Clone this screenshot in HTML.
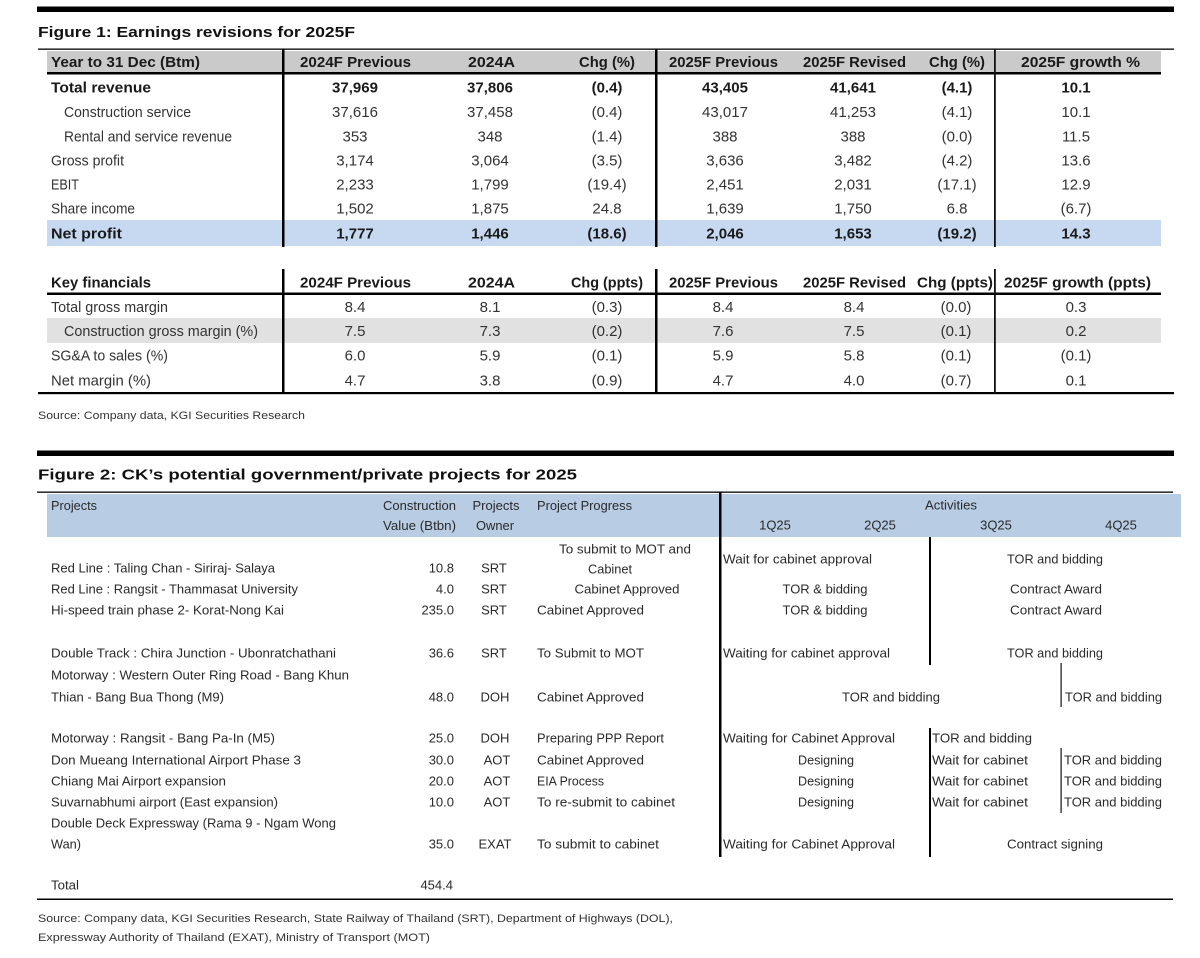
<!DOCTYPE html>
<html><head><meta charset="utf-8"><style>
html,body{margin:0;padding:0;background:#fff;}
svg{display:block;}
text{font-family:"Liberation Sans",Arial,sans-serif;}
.t{font-size:15px;font-weight:bold;fill:#111;}
.h{font-size:15px;font-weight:bold;fill:#1a1a1a;}
.r{font-size:15px;fill:#333;}
.b{font-size:15px;font-weight:bold;fill:#1a1a1a;}
.s{font-size:11px;fill:#333;}
.f{font-size:13px;fill:#2a2a2a;}
.c{text-anchor:middle;}
.e{text-anchor:end;}
</style></head><body>
<svg width="1200" height="958" viewBox="0 0 1200 958" xmlns="http://www.w3.org/2000/svg">
<rect x="0" y="0" width="1200" height="958" fill="#fff"/>

<!-- ===== Figure 1 ===== -->
<rect x="37" y="6.5" width="1137" height="5.5" fill="#000"/>
<text class="t" x="38" y="37" textLength="317" lengthAdjust="spacingAndGlyphs">Figure 1: Earnings revisions for 2025F</text>

<rect x="38" y="48.5" width="1136" height="1.3" fill="#000"/>
<rect x="47" y="51" width="1114" height="21" fill="#cacaca"/>
<rect x="47" y="72" width="1114" height="2.5" fill="#000"/>
<rect x="47" y="220" width="1114" height="26" fill="#c6d9f1"/>

<g>
<text class="h" x="51" y="67" textLength="149" lengthAdjust="spacingAndGlyphs">Year to 31 Dec (Btm)</text>
<text class="h" x="300" y="67" textLength="111" lengthAdjust="spacingAndGlyphs">2024F Previous</text>
<text class="h" x="468" y="67" textLength="47" lengthAdjust="spacingAndGlyphs">2024A</text>
<text class="h" x="579" y="67" textLength="56" lengthAdjust="spacingAndGlyphs">Chg (%)</text>
<text class="h" x="669" y="67" textLength="109" lengthAdjust="spacingAndGlyphs">2025F Previous</text>
<text class="h" x="803" y="67" textLength="103" lengthAdjust="spacingAndGlyphs">2025F Revised</text>
<text class="h" x="929" y="67" textLength="56" lengthAdjust="spacingAndGlyphs">Chg (%)</text>
<text class="h" x="1021" y="67" textLength="119" lengthAdjust="spacingAndGlyphs">2025F growth %</text>
</g>

<!-- rows -->
<g>
<text class="b" x="51" y="92.5" textLength="100" lengthAdjust="spacingAndGlyphs">Total revenue</text>
<text class="b c" x="355" y="92.5">37,969</text>
<text class="b c" x="490" y="92.5">37,806</text>
<text class="b c" x="607" y="92.5">(0.4)</text>
<text class="b c" x="725" y="92.5">43,405</text>
<text class="b c" x="853" y="92.5">41,641</text>
<text class="b c" x="957" y="92.5">(4.1)</text>
<text class="b c" x="1076" y="92.5">10.1</text>

<text class="r" x="64" y="117" textLength="127" lengthAdjust="spacingAndGlyphs">Construction service</text>
<text class="r c" x="355" y="117">37,616</text>
<text class="r c" x="490" y="117">37,458</text>
<text class="r c" x="607" y="117">(0.4)</text>
<text class="r c" x="725" y="117">43,017</text>
<text class="r c" x="853" y="117">41,253</text>
<text class="r c" x="957" y="117">(4.1)</text>
<text class="r c" x="1076" y="117">10.1</text>

<text class="r" x="64" y="141.5" textLength="168" lengthAdjust="spacingAndGlyphs">Rental and service revenue</text>
<text class="r c" x="355" y="141.5">353</text>
<text class="r c" x="490" y="141.5">348</text>
<text class="r c" x="607" y="141.5">(1.4)</text>
<text class="r c" x="725" y="141.5">388</text>
<text class="r c" x="853" y="141.5">388</text>
<text class="r c" x="957" y="141.5">(0.0)</text>
<text class="r c" x="1076" y="141.5">11.5</text>

<text class="r" x="51" y="165.5" textLength="73" lengthAdjust="spacingAndGlyphs">Gross profit</text>
<text class="r c" x="355" y="165.5">3,174</text>
<text class="r c" x="490" y="165.5">3,064</text>
<text class="r c" x="607" y="165.5">(3.5)</text>
<text class="r c" x="725" y="165.5">3,636</text>
<text class="r c" x="853" y="165.5">3,482</text>
<text class="r c" x="957" y="165.5">(4.2)</text>
<text class="r c" x="1076" y="165.5">13.6</text>

<text class="r" x="51" y="189.5" textLength="28" lengthAdjust="spacingAndGlyphs">EBIT</text>
<text class="r c" x="355" y="189.5">2,233</text>
<text class="r c" x="490" y="189.5">1,799</text>
<text class="r c" x="607" y="189.5">(19.4)</text>
<text class="r c" x="725" y="189.5">2,451</text>
<text class="r c" x="853" y="189.5">2,031</text>
<text class="r c" x="957" y="189.5">(17.1)</text>
<text class="r c" x="1076" y="189.5">12.9</text>

<text class="r" x="51" y="213.5" textLength="84" lengthAdjust="spacingAndGlyphs">Share income</text>
<text class="r c" x="355" y="213.5">1,502</text>
<text class="r c" x="490" y="213.5">1,875</text>
<text class="r c" x="607" y="213.5">24.8</text>
<text class="r c" x="725" y="213.5">1,639</text>
<text class="r c" x="853" y="213.5">1,750</text>
<text class="r c" x="957" y="213.5">6.8</text>
<text class="r c" x="1076" y="213.5">(6.7)</text>

<text class="b" x="51" y="238.5" textLength="71" lengthAdjust="spacingAndGlyphs">Net profit</text>
<text class="b c" x="355" y="238.5">1,777</text>
<text class="b c" x="490" y="238.5">1,446</text>
<text class="b c" x="607" y="238.5">(18.6)</text>
<text class="b c" x="725" y="238.5">2,046</text>
<text class="b c" x="853" y="238.5">1,653</text>
<text class="b c" x="957" y="238.5">(19.2)</text>
<text class="b c" x="1076" y="238.5">14.3</text>
</g>

<rect x="282" y="49" width="2.5" height="198" fill="#000"/>
<rect x="655" y="49" width="2.5" height="198" fill="#000"/>
<rect x="994" y="49" width="1.8" height="198" fill="#111"/>

<!-- Key financials -->
<rect x="47" y="318" width="1114" height="25" fill="#e1e1e1"/>
<rect x="47" y="292.5" width="1114" height="2.5" fill="#000"/>
<rect x="38" y="392" width="1136" height="2.2" fill="#000"/>
<rect x="282" y="269" width="2.5" height="125" fill="#000"/>
<rect x="655" y="269" width="2.5" height="125" fill="#000"/>
<rect x="994" y="269" width="1.8" height="125" fill="#111"/>

<g>
<text class="h" x="51" y="287.5" textLength="100" lengthAdjust="spacingAndGlyphs">Key financials</text>
<text class="h" x="300" y="287.5" textLength="111" lengthAdjust="spacingAndGlyphs">2024F Previous</text>
<text class="h" x="468" y="287.5" textLength="47" lengthAdjust="spacingAndGlyphs">2024A</text>
<text class="h" x="571" y="287.5" textLength="72" lengthAdjust="spacingAndGlyphs">Chg (ppts)</text>
<text class="h" x="669" y="287.5" textLength="109" lengthAdjust="spacingAndGlyphs">2025F Previous</text>
<text class="h" x="803" y="287.5" textLength="103" lengthAdjust="spacingAndGlyphs">2025F Revised</text>
<text class="h" x="917" y="287.5" textLength="76" lengthAdjust="spacingAndGlyphs">Chg (ppts)</text>
<text class="h" x="1004" y="287.5" textLength="147" lengthAdjust="spacingAndGlyphs">2025F growth (ppts)</text>
</g>

<g>
<text class="r" x="51" y="312" textLength="117" lengthAdjust="spacingAndGlyphs">Total gross margin</text>
<text class="r c" x="355" y="312">8.4</text>
<text class="r c" x="490" y="312">8.1</text>
<text class="r c" x="607" y="312">(0.3)</text>
<text class="r c" x="723" y="312">8.4</text>
<text class="r c" x="854" y="312">8.4</text>
<text class="r c" x="956" y="312">(0.0)</text>
<text class="r c" x="1076" y="312">0.3</text>

<text class="r" x="64" y="336" textLength="194" lengthAdjust="spacingAndGlyphs">Construction gross margin (%)</text>
<text class="r c" x="355" y="336">7.5</text>
<text class="r c" x="490" y="336">7.3</text>
<text class="r c" x="607" y="336">(0.2)</text>
<text class="r c" x="723" y="336">7.6</text>
<text class="r c" x="854" y="336">7.5</text>
<text class="r c" x="956" y="336">(0.1)</text>
<text class="r c" x="1076" y="336">0.2</text>

<text class="r" x="51" y="360.5" textLength="117" lengthAdjust="spacingAndGlyphs">SG&amp;A to sales (%)</text>
<text class="r c" x="355" y="360.5">6.0</text>
<text class="r c" x="490" y="360.5">5.9</text>
<text class="r c" x="607" y="360.5">(0.1)</text>
<text class="r c" x="723" y="360.5">5.9</text>
<text class="r c" x="854" y="360.5">5.8</text>
<text class="r c" x="956" y="360.5">(0.1)</text>
<text class="r c" x="1076" y="360.5">(0.1)</text>

<text class="r" x="51" y="385.5" textLength="100" lengthAdjust="spacingAndGlyphs">Net margin (%)</text>
<text class="r c" x="355" y="385.5">4.7</text>
<text class="r c" x="490" y="385.5">3.8</text>
<text class="r c" x="607" y="385.5">(0.9)</text>
<text class="r c" x="723" y="385.5">4.7</text>
<text class="r c" x="854" y="385.5">4.0</text>
<text class="r c" x="956" y="385.5">(0.7)</text>
<text class="r c" x="1076" y="385.5">0.1</text>
</g>

<text class="s" x="38" y="419" textLength="267" lengthAdjust="spacingAndGlyphs">Source: Company data, KGI Securities Research</text>

<!-- ===== Figure 2 ===== -->
<rect x="37" y="450.5" width="1137" height="5.5" fill="#000"/>
<text class="t" x="38" y="479.5" textLength="539" lengthAdjust="spacingAndGlyphs">Figure 2: CK’s potential government/private projects for 2025</text>

<rect x="37" y="491.5" width="1136" height="1.3" fill="#000"/>
<rect x="47" y="494" width="1134" height="43" fill="#b8cce4"/>

<g>
<text class="f" x="51" y="510" textLength="46" lengthAdjust="spacingAndGlyphs">Projects</text>
<text class="f e" x="456" y="510" textLength="73" lengthAdjust="spacingAndGlyphs">Construction</text>
<text class="f e" x="456" y="530" textLength="73" lengthAdjust="spacingAndGlyphs">Value (Btbn)</text>
<text class="f c" x="496" y="510" textLength="47" lengthAdjust="spacingAndGlyphs">Projects</text>
<text class="f c" x="495" y="530" textLength="38" lengthAdjust="spacingAndGlyphs">Owner</text>
<text class="f" x="537" y="510" textLength="95" lengthAdjust="spacingAndGlyphs">Project Progress</text>
<text class="f c" x="951" y="509.5" textLength="52" lengthAdjust="spacingAndGlyphs">Activities</text>
<text class="f c" x="775" y="529.5">1Q25</text>
<text class="f c" x="880" y="529.5">2Q25</text>
<text class="f c" x="996" y="529.5">3Q25</text>
<text class="f c" x="1121" y="529.5">4Q25</text>
</g>

<g>
<text class="f c" x="625" y="553.5" textLength="132" lengthAdjust="spacingAndGlyphs">To submit to MOT and</text>

<text class="f" x="51" y="572.5" textLength="224" lengthAdjust="spacingAndGlyphs">Red Line : Taling Chan - Siriraj- Salaya</text>
<text class="f e" x="454" y="572.5">10.8</text>
<text class="f c" x="494" y="572.5">SRT</text>
<text class="f c" x="610" y="573.5" textLength="44" lengthAdjust="spacingAndGlyphs">Cabinet</text>
<text class="f" x="723" y="563.5" textLength="149" lengthAdjust="spacingAndGlyphs">Wait for cabinet approval</text>
<text class="f c" x="1055" y="563.5" textLength="96" lengthAdjust="spacingAndGlyphs">TOR and bidding</text>

<text class="f" x="51" y="593.5" textLength="247" lengthAdjust="spacingAndGlyphs">Red Line : Rangsit - Thammasat University</text>
<text class="f e" x="454" y="593.5">4.0</text>
<text class="f c" x="494" y="593.5">SRT</text>
<text class="f c" x="627" y="593.5" textLength="105" lengthAdjust="spacingAndGlyphs">Cabinet Approved</text>
<text class="f c" x="825" y="593.5" textLength="85" lengthAdjust="spacingAndGlyphs">TOR &amp; bidding</text>
<text class="f c" x="1056" y="593.5" textLength="92" lengthAdjust="spacingAndGlyphs">Contract Award</text>

<text class="f" x="51" y="614.5" textLength="233" lengthAdjust="spacingAndGlyphs">Hi-speed train phase 2- Korat-Nong Kai</text>
<text class="f e" x="454" y="614.5">235.0</text>
<text class="f c" x="494" y="614.5">SRT</text>
<text class="f" x="537" y="614.5" textLength="107" lengthAdjust="spacingAndGlyphs">Cabinet Approved</text>
<text class="f c" x="825" y="614.5" textLength="85" lengthAdjust="spacingAndGlyphs">TOR &amp; bidding</text>
<text class="f c" x="1056" y="614.5" textLength="92" lengthAdjust="spacingAndGlyphs">Contract Award</text>

<text class="f" x="51" y="657.5" textLength="285" lengthAdjust="spacingAndGlyphs">Double Track : Chira Junction - Ubonratchathani</text>
<text class="f e" x="454" y="657.5">36.6</text>
<text class="f c" x="494" y="657.5">SRT</text>
<text class="f" x="537" y="657.5" textLength="107" lengthAdjust="spacingAndGlyphs">To Submit to MOT</text>
<text class="f" x="723" y="657.5" textLength="167" lengthAdjust="spacingAndGlyphs">Waiting for cabinet approval</text>
<text class="f c" x="1055" y="657.5" textLength="96" lengthAdjust="spacingAndGlyphs">TOR and bidding</text>

<text class="f" x="51" y="679.5" textLength="298" lengthAdjust="spacingAndGlyphs">Motorway : Western Outer Ring Road - Bang Khun</text>

<text class="f" x="51" y="701.5" textLength="173" lengthAdjust="spacingAndGlyphs">Thian - Bang Bua Thong (M9)</text>
<text class="f e" x="454" y="701.5">48.0</text>
<text class="f c" x="495" y="701.5">DOH</text>
<text class="f" x="537" y="701.5" textLength="107" lengthAdjust="spacingAndGlyphs">Cabinet Approved</text>
<text class="f c" x="891" y="701.5" textLength="98" lengthAdjust="spacingAndGlyphs">TOR and bidding</text>
<text class="f" x="1065" y="701.5" textLength="97" lengthAdjust="spacingAndGlyphs">TOR and bidding</text>

<text class="f" x="51" y="742.5" textLength="224" lengthAdjust="spacingAndGlyphs">Motorway : Rangsit - Bang Pa-In (M5)</text>
<text class="f e" x="454" y="742.5">25.0</text>
<text class="f c" x="495" y="742.5">DOH</text>
<text class="f" x="537" y="742.5" textLength="127" lengthAdjust="spacingAndGlyphs">Preparing PPP Report</text>
<text class="f" x="723" y="742.5" textLength="172" lengthAdjust="spacingAndGlyphs">Waiting for Cabinet Approval</text>
<text class="f" x="932" y="742.5" textLength="100" lengthAdjust="spacingAndGlyphs">TOR and bidding</text>

<text class="f" x="51" y="764.5" textLength="250" lengthAdjust="spacingAndGlyphs">Don Mueang International Airport Phase 3</text>
<text class="f e" x="454" y="764.5">30.0</text>
<text class="f c" x="497" y="764.5">AOT</text>
<text class="f" x="537" y="764.5" textLength="107" lengthAdjust="spacingAndGlyphs">Cabinet Approved</text>
<text class="f c" x="826" y="764.5" textLength="56" lengthAdjust="spacingAndGlyphs">Designing</text>
<text class="f" x="932" y="764.5" textLength="96" lengthAdjust="spacingAndGlyphs">Wait for cabinet</text>
<text class="f" x="1064" y="764.5" textLength="98" lengthAdjust="spacingAndGlyphs">TOR and bidding</text>

<text class="f" x="51" y="785.5" textLength="175" lengthAdjust="spacingAndGlyphs">Chiang Mai Airport expansion</text>
<text class="f e" x="454" y="785.5">20.0</text>
<text class="f c" x="497" y="785.5">AOT</text>
<text class="f" x="537" y="785.5" textLength="67" lengthAdjust="spacingAndGlyphs">EIA Process</text>
<text class="f c" x="826" y="785.5" textLength="56" lengthAdjust="spacingAndGlyphs">Designing</text>
<text class="f" x="932" y="785.5" textLength="96" lengthAdjust="spacingAndGlyphs">Wait for cabinet</text>
<text class="f" x="1064" y="785.5" textLength="98" lengthAdjust="spacingAndGlyphs">TOR and bidding</text>

<text class="f" x="51" y="806.5" textLength="227" lengthAdjust="spacingAndGlyphs">Suvarnabhumi airport (East expansion)</text>
<text class="f e" x="454" y="806.5">10.0</text>
<text class="f c" x="497" y="806.5">AOT</text>
<text class="f" x="537" y="806.5" textLength="138" lengthAdjust="spacingAndGlyphs">To re-submit to cabinet</text>
<text class="f c" x="826" y="806.5" textLength="56" lengthAdjust="spacingAndGlyphs">Designing</text>
<text class="f" x="932" y="806.5" textLength="96" lengthAdjust="spacingAndGlyphs">Wait for cabinet</text>
<text class="f" x="1064" y="806.5" textLength="98" lengthAdjust="spacingAndGlyphs">TOR and bidding</text>

<text class="f" x="51" y="827.5" textLength="285" lengthAdjust="spacingAndGlyphs">Double Deck Expressway (Rama 9 - Ngam Wong</text>

<text class="f" x="51" y="848.5" textLength="30" lengthAdjust="spacingAndGlyphs">Wan)</text>
<text class="f e" x="454" y="848.5">35.0</text>
<text class="f c" x="495" y="848.5">EXAT</text>
<text class="f" x="537" y="848.5" textLength="122" lengthAdjust="spacingAndGlyphs">To submit to cabinet</text>
<text class="f" x="723" y="848.5" textLength="172" lengthAdjust="spacingAndGlyphs">Waiting for Cabinet Approval</text>
<text class="f c" x="1055" y="848.5" textLength="96" lengthAdjust="spacingAndGlyphs">Contract signing</text>

<text class="f" x="51" y="889.5" textLength="28" lengthAdjust="spacingAndGlyphs">Total</text>
<text class="f e" x="453" y="889.5">454.4</text>
</g>

<rect x="719" y="492" width="2.5" height="365" fill="#000"/>
<rect x="929" y="537" width="2" height="128" fill="#000"/>
<rect x="929" y="728" width="2" height="129" fill="#000"/>
<rect x="1060.5" y="663" width="1.2" height="44" fill="#111"/>
<rect x="1060.5" y="748" width="1.2" height="65" fill="#111"/>
<rect x="37" y="898.5" width="1136" height="1.5" fill="#000"/>

<text class="s" x="38" y="922" textLength="635" lengthAdjust="spacingAndGlyphs">Source: Company data, KGI Securities Research, State Railway of Thailand (SRT), Department of Highways (DOL),</text>
<text class="s" x="38" y="941" textLength="392" lengthAdjust="spacingAndGlyphs">Expressway Authority of Thailand (EXAT), Ministry of Transport (MOT)</text>
</svg>
</body></html>
